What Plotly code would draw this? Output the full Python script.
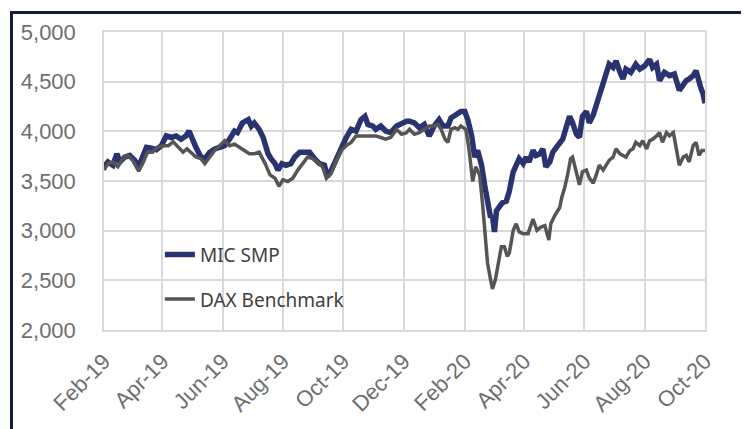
import plotly.graph_objects as go

# ---- data ----
mic_dates = [
    "2019-02-01", "2019-02-05", "2019-02-10", "2019-02-14", "2019-02-17", "2019-02-22", "2019-02-27",
    "2019-03-04", "2019-03-08", "2019-03-12", "2019-03-16", "2019-03-21", "2019-03-26", "2019-03-31",
    "2019-04-05", "2019-04-10", "2019-04-15", "2019-04-20", "2019-04-25", "2019-04-28",
    "2019-05-02", "2019-05-05", "2019-05-10", "2019-05-14", "2019-05-19", "2019-05-24", "2019-05-29",
    "2019-06-03", "2019-06-08", "2019-06-13", "2019-06-16", "2019-06-21", "2019-06-27", "2019-06-30",
    "2019-07-03", "2019-07-08", "2019-07-12", "2019-07-17", "2019-07-20", "2019-07-24", "2019-07-27", "2019-07-31",
    "2019-08-04", "2019-08-09", "2019-08-13", "2019-08-18", "2019-08-23", "2019-08-28",
    "2019-09-02", "2019-09-07", "2019-09-12", "2019-09-15", "2019-09-19", "2019-09-24", "2019-09-29",
    "2019-10-04", "2019-10-09", "2019-10-14", "2019-10-19", "2019-10-23", "2019-10-26", "2019-10-31",
    "2019-11-03", "2019-11-08", "2019-11-13", "2019-11-18", "2019-11-24", "2019-11-29",
    "2019-12-04", "2019-12-07", "2019-12-12", "2019-12-17", "2019-12-22", "2019-12-27",
    "2020-01-01", "2020-01-06", "2020-01-10", "2020-01-15", "2020-01-18", "2020-01-23", "2020-01-28",
    "2020-02-01", "2020-02-04", "2020-02-08", "2020-02-11", "2020-02-14", "2020-02-18", "2020-02-21",
    "2020-02-24", "2020-02-27", "2020-02-29",
    "2020-03-02", "2020-03-04", "2020-03-07", "2020-03-10", "2020-03-14", "2020-03-17", "2020-03-21",
    "2020-03-24", "2020-03-27", "2020-03-31",
    "2020-04-03", "2020-04-06", "2020-04-10", "2020-04-13", "2020-04-17", "2020-04-20", "2020-04-23",
    "2020-04-27", "2020-04-30",
    "2020-05-05", "2020-05-10", "2020-05-14", "2020-05-17", "2020-05-20", "2020-05-24", "2020-05-27", "2020-05-30",
    "2020-06-03", "2020-06-06", "2020-06-10", "2020-06-13", "2020-06-16", "2020-06-20", "2020-06-23", "2020-06-26",
    "2020-06-30",
    "2020-07-03", "2020-07-07", "2020-07-10", "2020-07-13", "2020-07-18", "2020-07-23", "2020-07-27",
    "2020-08-01", "2020-08-06", "2020-08-09", "2020-08-13", "2020-08-16", "2020-08-21", "2020-08-26", "2020-08-31",
    "2020-09-05", "2020-09-09", "2020-09-12", "2020-09-15", "2020-09-19", "2020-09-22", "2020-09-25",
    "2020-09-27", "2020-09-29", "2020-10-01",
]
mic_values = [
    3643, 3692, 3659, 3774, 3692, 3741, 3757,
    3708, 3643, 3741, 3839, 3830, 3816, 3856,
    3954, 3938, 3954, 3921, 3954, 4003,
    3889, 3839, 3741, 3725, 3790, 3823, 3839,
    3856, 3921, 4003, 3987, 4085, 4118, 4053,
    4085, 4020, 3938, 3774, 3725, 3675, 3610, 3675,
    3659, 3675, 3741, 3790, 3790, 3790,
    3725, 3675, 3659, 3544, 3610, 3725, 3807,
    3938, 4020, 4003, 4118, 4151, 4069, 4053,
    4020, 4053, 4003, 3987, 4053, 4085,
    4102, 4102, 4085, 4036, 4069, 3954,
    4053, 4118, 4053, 4053, 4134, 4167, 4200,
    4200, 4118, 3954, 3741, 3807, 3659, 3462,
    3249, 3134, 3151,
    2987, 3200, 3233, 3282, 3298, 3397, 3593,
    3659, 3725, 3675,
    3741, 3692, 3807, 3757, 3774, 3823, 3643,
    3692, 3790,
    3856, 3921, 4053, 4151, 4085, 3970, 3938, 4151,
    4200, 4085, 4167, 4265, 4348, 4479, 4577, 4675,
    4643,
    4708, 4594, 4528, 4626, 4594, 4675, 4626,
    4659, 4725, 4643, 4675, 4511, 4594, 4561, 4577,
    4413, 4479, 4511, 4528, 4561, 4610, 4479,
    4430, 4380, 4282,
]

dax_dates = [
    "2019-02-01", "2019-02-05", "2019-02-10", "2019-02-15", "2019-02-20", "2019-02-25",
    "2019-03-02", "2019-03-08", "2019-03-12", "2019-03-17", "2019-03-22", "2019-03-27",
    "2019-04-02", "2019-04-07", "2019-04-12", "2019-04-17", "2019-04-22", "2019-04-26", "2019-04-30",
    "2019-05-05", "2019-05-10", "2019-05-14", "2019-05-19", "2019-05-24", "2019-05-29",
    "2019-06-03", "2019-06-08", "2019-06-13", "2019-06-18", "2019-06-23", "2019-06-28",
    "2019-07-03", "2019-07-08", "2019-07-14", "2019-07-19", "2019-07-24", "2019-07-28",
    "2019-08-01", "2019-08-06", "2019-08-11", "2019-08-16", "2019-08-21", "2019-08-26", "2019-08-31",
    "2019-09-05", "2019-09-10", "2019-09-14", "2019-09-19", "2019-09-24", "2019-09-29",
    "2019-10-04", "2019-10-09", "2019-10-14", "2019-10-19", "2019-10-24", "2019-10-29",
    "2019-11-03", "2019-11-08", "2019-11-13", "2019-11-18", "2019-11-24", "2019-11-29",
    "2019-12-04", "2019-12-07", "2019-12-12", "2019-12-17", "2019-12-22", "2019-12-27",
    "2020-01-01", "2020-01-05", "2020-01-08", "2020-01-12", "2020-01-15", "2020-01-18", "2020-01-22",
    "2020-01-25", "2020-01-28",
    "2020-02-02", "2020-02-05", "2020-02-09", "2020-02-12", "2020-02-16", "2020-02-19", "2020-02-22",
    "2020-02-24", "2020-02-27", "2020-02-29",
    "2020-03-03", "2020-03-06", "2020-03-09", "2020-03-12", "2020-03-15", "2020-03-17", "2020-03-21",
    "2020-03-24", "2020-03-27", "2020-03-31",
    "2020-04-05", "2020-04-10", "2020-04-14", "2020-04-18", "2020-04-22", "2020-04-26", "2020-04-28",
    "2020-05-02", "2020-05-07", "2020-05-09", "2020-05-12", "2020-05-15", "2020-05-18", "2020-05-20",
    "2020-05-24", "2020-05-27", "2020-05-30",
    "2020-06-03", "2020-06-06", "2020-06-10", "2020-06-13", "2020-06-16", "2020-06-20", "2020-06-23",
    "2020-06-26", "2020-06-30",
    "2020-07-03", "2020-07-07", "2020-07-10", "2020-07-13", "2020-07-17", "2020-07-20", "2020-07-23",
    "2020-07-27", "2020-07-30",
    "2020-08-03", "2020-08-06", "2020-08-09", "2020-08-13", "2020-08-16", "2020-08-19", "2020-08-23",
    "2020-08-26", "2020-08-30",
    "2020-09-02", "2020-09-05", "2020-09-09", "2020-09-12", "2020-09-15", "2020-09-19", "2020-09-22",
    "2020-09-25", "2020-09-28", "2020-10-01",
]
dax_values = [
    3610, 3675, 3692, 3643, 3725, 3757,
    3708, 3600, 3675, 3790, 3790, 3839,
    3856, 3856, 3895, 3839, 3790, 3823, 3790,
    3741, 3725, 3675, 3741, 3807, 3856,
    3905, 3856, 3872, 3839, 3807, 3774,
    3774, 3790, 3675, 3561, 3528, 3446,
    3512, 3495, 3528, 3610, 3675, 3741, 3725,
    3692, 3643, 3528, 3577, 3708, 3807,
    3856, 3889, 3954, 3954, 3954, 3954,
    3954, 3938, 3921, 3938, 4020, 3970,
    3987, 4020, 3970, 3987, 4020, 4053,
    4053, 4069, 4020, 3921, 3889, 4020, 4036,
    4020, 4053,
    4020, 3839, 3495, 3643, 3561, 3266, 2938,
    2675, 2511, 2413,
    2511, 2675, 2839, 2839, 2741, 2774, 3003,
    3069, 2987, 2970,
    2970, 3118, 3003, 3036, 3052, 2905, 3069,
    3151, 3233, 3331, 3430, 3561, 3725, 3741,
    3593, 3462, 3593,
    3610, 3528, 3479, 3561, 3659, 3610, 3659,
    3708, 3741,
    3823, 3774, 3757, 3741, 3807, 3823, 3889,
    3856, 3905,
    3823, 3905, 3921, 3954, 3987, 3889, 3987,
    3954, 3987,
    3823, 3659, 3741, 3757, 3692, 3856, 3889,
    3757, 3807, 3807,
]

series_names = ["MIC SMP", "DAX Benchmark"]
y_ticks = [2000, 2500, 3000, 3500, 4000, 4500, 5000]
x_range = ["2019-02-01", "2020-10-01"]

# ---- styling ----
BLUE = "#28336f"
GREY = "#555555"
GRID = "#d9d9d9"
TICK_FONT = dict(family="Liberation Sans", size=22, color="#6e6e6e")

fig = go.Figure()
fig.add_trace(go.Scatter(
    x=mic_dates, y=mic_values, name=series_names[0], mode="lines",
    line=dict(color=BLUE, width=5.5), legendgroup="a",
))
fig.add_trace(go.Scatter(
    x=dax_dates, y=dax_values, name=series_names[1], mode="lines",
    line=dict(color=GREY, width=3.5), legendgroup="b",
))

# page body has an 8px margin, so the figure is sized/margined to compensate
fig.update_layout(
    width=741, height=421,
    margin=dict(l=96, r=44, t=19, b=97),
    paper_bgcolor="white", plot_bgcolor="white",
    separators=".,",
    showlegend=True,
    legend=dict(
        x=0.093, y=0.317, xanchor="left", yanchor="top",
        bgcolor="rgba(0,0,0,0)",
        font=dict(family="Noto Sans", size=19, color="#404040"),
        tracegroupgap=17,
    ),
    xaxis=dict(
        type="date", range=x_range, dtick="M2", tick0="2019-02-01",
        tickformat="%b-%y", tickangle=-45, tickfont=TICK_FONT,
        showgrid=True, gridcolor=GRID, gridwidth=1.5,
        showline=True, linecolor=GRID, linewidth=1.5, mirror=True,
        ticks="", ticklabelstandoff=8, zeroline=False,
    ),
    yaxis=dict(
        range=[2000, 5000], tickvals=y_ticks, tickformat=",",
        tickfont=TICK_FONT,
        showgrid=True, gridcolor=GRID, gridwidth=1.5,
        showline=True, linecolor=GRID, linewidth=1.5, mirror=True,
        ticks="", ticklabelstandoff=22, zeroline=False,
    ),
    shapes=[dict(
        type="rect", xref="paper", yref="paper",
        x0=-0.1539, x1=1.0641, y0=-0.40, y1=1.0656,
        line=dict(color="#141b3d", width=3), fillcolor="rgba(0,0,0,0)",
        layer="above",
    )],
)

fig.write_html("out.html")
